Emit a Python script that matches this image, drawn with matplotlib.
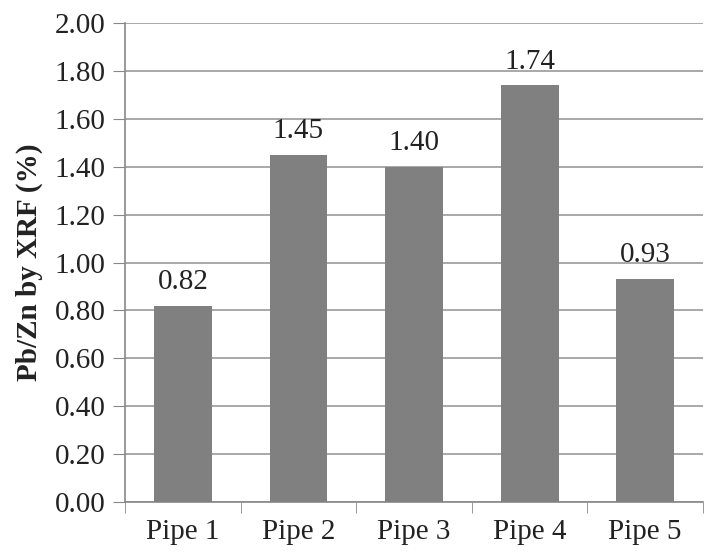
import matplotlib
matplotlib.use('Agg')
import matplotlib.pyplot as plt
import numpy as np

pipes = ['Pipe 1', 'Pipe 2', 'Pipe 3', 'Pipe 4', 'Pipe 5']
ratio = [0.82, 1.45, 1.40, 1.74, 0.93]
labels = ['0.82', '1.45', '1.40', '1.74', '0.93']

plt.rcParams['font.family'] = ['Liberation Serif', 'DejaVu Serif']

fig = plt.figure(figsize=(7.04, 5.52), dpi=100)
ax = fig.add_axes([0.1776, 0.0906, 0.8210, 0.8677])

x = np.arange(len(pipes))
ax.bar(x, ratio, width=0.5, color='#808080', zorder=3)
for xi, v, t in zip(x, ratio, labels):
    ax.text(xi, v + 0.045, t, ha='center', va='bottom', fontsize=21, color='#222222')

ax.set_xlim(-0.5, len(pipes) - 0.5)
ax.set_ylim(0, 2.0)
ax.set_yticks(np.arange(0, 2.01, 0.2))
ax.set_yticklabels(['%.2f' % v for v in np.arange(0, 2.01, 0.2)], fontsize=21, color='#222222')
ax.set_xticks(x)
ax.set_xticklabels(pipes, fontsize=21, color='#222222')
ax.tick_params(axis='x', which='major', length=0, pad=12)
ax.set_xticks(np.arange(-0.5, len(pipes), 1), minor=True)
ax.tick_params(axis='x', which='minor', length=8, color='#888888', direction='out')
ax.tick_params(axis='y', length=9, color='#888888', pad=5)

ax.yaxis.grid(True, color='#999999', linewidth=1.2, zorder=0)
for s in ['top', 'right']:
    ax.spines[s].set_visible(False)
ax.spines['left'].set_color('#888888')
ax.spines['bottom'].set_color('#888888')
ax.spines['left'].set_linewidth(1.2)
ax.spines['bottom'].set_linewidth(1.2)

ax.set_ylabel('Pb/Zn by XRF (%)', fontsize=21, fontweight='bold', labelpad=8, color='#222222')

fig.savefig('out.png', dpi=100)
